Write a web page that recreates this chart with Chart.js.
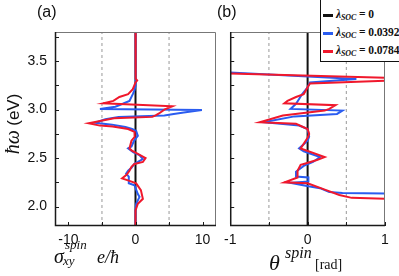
<!DOCTYPE html>
<html>
<head>
<meta charset="utf-8">
<script src="https://cdn.jsdelivr.net/npm/chart.js@4.4.1/dist/chart.umd.min.js"></script>
<style>
  body { margin: 0; background: #fff; }
  #wrap { position: relative; width: 399px; height: 276px; overflow: hidden; font-family: "Liberation Sans", Arial, sans-serif; color: #111; }
  canvas { position: absolute; top: 0; }
  .t { position: absolute; line-height: 1; white-space: nowrap; }
  .it { font-family: "Liberation Serif", "Times New Roman", serif; font-style: italic; }
  #legend { position: absolute; left: 320px; top: -2px; width: 80px; height: 64px; border: 1.5px solid #111; background: #fff; box-sizing: border-box; }
  .row { position: absolute; left: 2px; height: 14px; font-family: "Liberation Serif", serif; font-weight: bold; font-size: 11.5px; line-height: 14px; white-space: nowrap; letter-spacing: -0.1px; }
  .sw { display: inline-block; width: 10px; height: 3px; vertical-align: middle; margin-right: 3px; }
  .row sub { font-size: 8px; font-style: italic; vertical-align: -2px; }
</style>
</head>
<body>
<div id="wrap">
  <canvas id="panelA" width="220" height="276" style="left:0"></canvas>
  <canvas id="panelB" width="181" height="276" style="left:218px"></canvas>

  <div class="t" style="left:37px;top:4px;font-size:16px;">(a)</div>
  <div class="t" style="left:217px;top:4px;font-size:16px;">(b)</div>

  <div class="t" style="left:-26px;top:114px;width:76px;transform:rotate(-90deg);text-align:center;">
    <span class="it" style="font-size:20px;">ħω</span> <span style="font-size:17px;">(eV)</span>
  </div>

  <div class="t it" style="left:54px;top:246px;font-size:20px;">σ</div>
  <div class="t it" style="left:65px;top:238px;font-size:13px;">spin</div>
  <div class="t it" style="left:63px;top:254px;font-size:13px;">xy</div>
  <div class="t it" style="left:97px;top:248px;font-size:18px;">e/ħ</div>

  <div class="t it" style="left:269px;top:252px;font-size:22px;">θ</div>
  <div class="t it" style="left:285px;top:245px;font-size:16px;">spin</div>
  <div class="t" style="left:315px;top:258px;font-size:14px;font-family:'Liberation Serif',serif;">[rad]</div>

  <div id="legend"></div>
</div>
<script>
// lambda_SOC values and colours of the three series
const lambdaValues = ['0', '0.0392', '0.0784'];
const seriesColors = ['#111111', '#2a5cf0', '#f0182c'];

// lambda = 0 gives zero everywhere
const energyZero = [1.8, 3.8];
const valueZero = [0, 0];

// panel (a): spin Hall conductivity
const energyBlueA = [3.80, 3.30, 3.25, 3.20, 3.16, 3.09, 3.06, 3.03, 3.007, 2.997, 2.97, 2.955, 2.94, 2.925, 2.90, 2.865, 2.845, 2.82, 2.80, 2.78, 2.73, 2.68, 2.62, 2.60, 2.56, 2.53, 2.49, 2.46, 2.44, 2.40, 2.37, 2.34, 2.31, 2.24, 2.22, 2.13, 2.10, 2.03, 1.96, 1.80];
const sigmaBlue   = [0, 0, 0.05, -0.15, -0.4, -0.9, -1.9, -3.0, -5.3, 9.9, 7.2, 5.7, 4.3, -2.5, -4.5, -6.0, -3.5, -1.5, -0.5, 0.1, 0.35, -0.2, -0.6, -1.1, -0.3, 0.6, 1.1, 0.35, -0.2, -0.6, -1.1, -1.4, -1.0, -1.0, -0.15, 0.35, 0.6, 0.1, 0, 0];

const energyRedA = [3.80, 3.40, 3.32, 3.30, 3.28, 3.21, 3.16, 3.13, 3.09, 3.065, 3.035, 3.00, 2.96, 2.94, 2.925, 2.91, 2.86, 2.835, 2.825, 2.80, 2.77, 2.75, 2.72, 2.68, 2.60, 2.58, 2.50, 2.46, 2.44, 2.41, 2.37, 2.33, 2.29, 2.265, 2.24, 2.17, 2.08, 2.03, 1.96, 1.80];
const sigmaRed   = [0, 0, 0.05, 0.25, 0.0, -0.4, -1.1, -2.4, -3.3, -4.8, 5.5, 4.3, 3.5, 3.0, 2.5, -3.2, -7.0, -5.3, -3.4, -1.1, -0.15, -0.1, -0.15, -0.6, -0.9, -0.6, 1.5, 1.1, -0.15, -0.6, -0.9, -1.3, -2.0, -0.9, 0.1, 0.8, 1.1, 0.35, 0.0, 0];

// panel (b): spin rotation angle
const energyBlueB = [3.80, 3.395, 3.315, 3.28, 3.23, 3.16, 3.11, 3.06, 3.007, 2.99, 2.955, 2.93, 2.87, 2.836, 2.80, 2.72, 2.68, 2.60, 2.57, 2.51, 2.46, 2.42, 2.36, 2.31, 2.30, 2.26, 2.245, 2.21, 2.19, 2.15, 2.14, 2.135, 2.13, 1.80];
const thetaBlue   = [-1.6, -1.3, 0.63, 0.03, 0.0, -0.07, -0.11, -0.15, -0.22, 0.45, 0.38, -0.17, -0.57, -0.11, 0.0, 0.02, 0.0, -0.11, -0.05, 0.16, 0.07, -0.05, -0.15, -0.15, 0.01, 0.01, -0.22, 0.01, 0.16, 0.28, 0.45, 1.0, 1.3, 1.5];

const energyRedB = [3.80, 3.38, 3.325, 3.30, 3.27, 3.23, 3.16, 3.13, 3.09, 3.065, 3.045, 3.007, 2.99, 2.94, 2.87, 2.853, 2.80, 2.75, 2.71, 2.60, 2.51, 2.48, 2.44, 2.43, 2.37, 2.30, 2.25, 2.24, 2.17, 2.12, 2.09, 2.08, 2.075, 1.80];
const thetaRed   = [-1.6, -1.3, 1.15, 1.05, 0.03, 0.0, -0.05, -0.15, -0.26, -0.3, 0.36, 0.28, 0.22, -0.32, -0.62, -0.15, 0.0, 0.02, 0.0, -0.09, 0.22, 0.12, -0.05, -0.09, -0.13, -0.13, -0.3, 0.0, 0.24, 0.41, 0.57, 1.0, 1.3, 1.5];

// axes
const energyTicks = [2.0, 2.5, 3.0, 3.5];
const energyMarks = [2.0, 2.25, 2.5, 2.75, 3.0, 3.25, 3.5, 3.75];
const sigmaTicks = [-10, 0, 10];
const sigmaGuides = [-5, 5];
const thetaTicks = [-1, 0, 1];
const thetaGuides = [-0.5, 0.5];

function pts(xs, ys) {
    return xs.map((x, i) => ({ x: x, y: ys[i] }));
}

function line(data, color, width, dash) {
    return {
        data: data,
        showLine: true,
        borderColor: color,
        borderWidth: width,
        borderDash: dash || [],
        pointRadius: 0,
        tension: 0,
        fill: false
    };
}

const framePlugin = {
    id: 'frame',
    afterDatasetsDraw(chart, args, opts) {
        const { ctx, chartArea: a, scales } = chart;
        ctx.save();
        ctx.strokeStyle = '#777';
        ctx.lineWidth = 1;
        ctx.beginPath();
        ctx.moveTo(a.left, a.top + 0.5);
        ctx.lineTo(a.right - 0.5, a.top + 0.5);
        ctx.lineTo(a.right - 0.5, a.bottom);
        ctx.stroke();
        ctx.strokeStyle = '#1a1a1a';
        ctx.lineWidth = 1.5;
        ctx.beginPath();
        ctx.moveTo(a.left + 0.5, a.top);
        ctx.lineTo(a.left + 0.5, a.bottom - 0.5);
        ctx.lineTo(a.right, a.bottom - 0.5);
        ctx.stroke();
        ctx.lineWidth = 1;
        ctx.beginPath();
        energyMarks.forEach(v => {
            const y = Math.round(scales.y.getPixelForValue(v)) + 0.5;
            ctx.moveTo(a.left, y); ctx.lineTo(a.left + 4, y);
        });
        opts.xMarks.forEach(v => {
            const x = Math.round(scales.x.getPixelForValue(v)) + 0.5;
            ctx.moveTo(x, a.bottom); ctx.lineTo(x, a.bottom - 4);
        });
        ctx.stroke();
        ctx.restore();
    }
};

Chart.defaults.font.family = '"Liberation Sans", Arial, sans-serif';
Chart.defaults.color = '#111';

function makePanel(id, blue, red, xMin, xMax, xTicks, guides, yWidth, padding) {
    const guideSets = guides.map(g => line(pts([g, g], energyZero), '#999', 1, [3, 3]));
    return new Chart(document.getElementById(id), {
        type: 'scatter',
        data: {
            datasets: [
                line(red, seriesColors[2], 2),
                line(blue, seriesColors[1], 2),
                line(pts(valueZero, energyZero), seriesColors[0], 2),
                ...guideSets
            ]
        },
        options: {
            responsive: false,
            devicePixelRatio: 1,
            animation: false,
            layout: { padding: padding },
            plugins: {
                legend: { display: false },
                tooltip: { enabled: false },
                frame: { xMarks: xTicks.concat(guides) }
            },
            scales: {
                x: {
                    type: 'linear',
                    min: xMin,
                    max: xMax,
                    grid: { display: false, drawTicks: false },
                    border: { display: false },
                    ticks: { font: { size: 14 }, padding: 6, callback: v => String(v) },
                    afterBuildTicks: s => { s.ticks = xTicks.map(v => ({ value: v })); },
                    afterFit: s => { s.height = 50; }
                },
                y: {
                    type: 'linear',
                    min: 1.8,
                    max: 3.8,
                    display: yWidth > 0,
                    grid: { display: false, drawTicks: false },
                    border: { display: false },
                    ticks: { font: { size: 14 }, padding: 8, callback: v => v.toFixed(1) },
                    afterBuildTicks: s => { s.ticks = energyTicks.map(v => ({ value: v })); },
                    afterFit: s => { s.width = yWidth; }
                }
            }
        },
        plugins: [framePlugin]
    });
}

makePanel('panelA', pts(sigmaBlue, energyBlueA), pts(sigmaRed, energyRedA),
    -12, 12, sigmaTicks, sigmaGuides, 55, { left: 0, top: 32, right: 4, bottom: 0 });
makePanel('panelB', pts(thetaBlue, energyBlueB), pts(thetaRed, energyRedB),
    -1, 1, thetaTicks, thetaGuides, 0, { left: 6, top: 32, right: 14, bottom: 0 });

// legend
const legend = document.getElementById('legend');
lambdaValues.forEach((val, i) => {
    const row = document.createElement('div');
    row.className = 'row';
    row.style.top = (8 + i * 18) + 'px';
    row.innerHTML = '<span class="sw" style="background:' + seriesColors[i] + '"></span>' +
        '<i>λ</i><sub>SOC</sub> = ' + val;
    legend.appendChild(row);
});
</script>
</body>
</html>
